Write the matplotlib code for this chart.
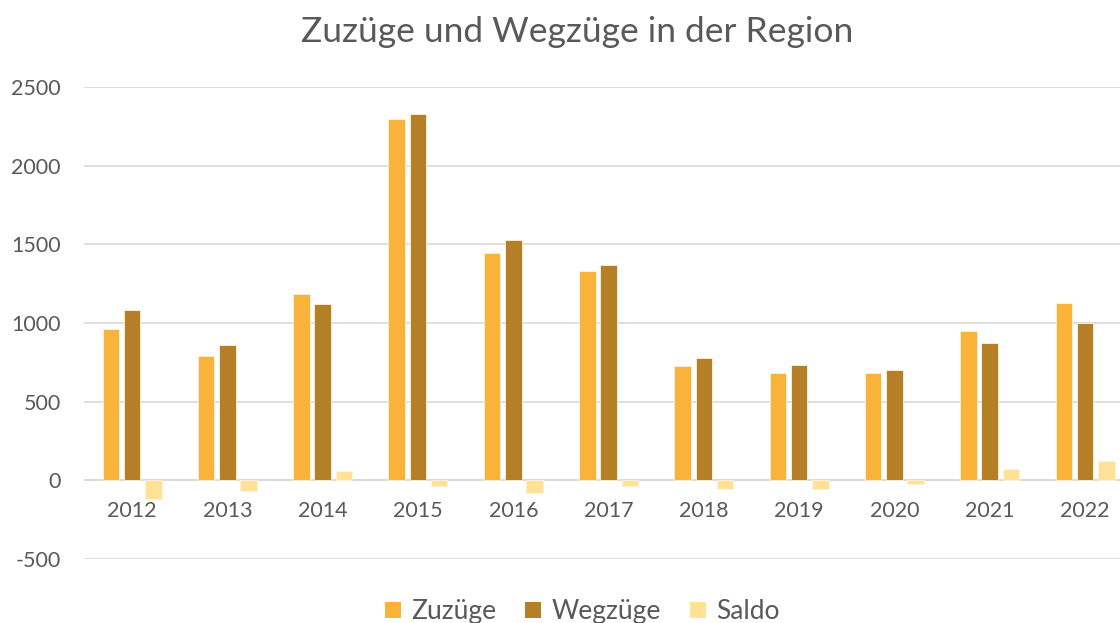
import numpy as np
import matplotlib.pyplot as plt
from matplotlib.patches import Patch

jahre = ['2012', '2013', '2014', '2015', '2016', '2017', '2018', '2019', '2020', '2021', '2022']
zuzuege = [960, 793, 1183, 2294, 1446, 1330, 725, 683, 683, 946, 1124]
wegzuege = [1085, 857, 1120, 2330, 1525, 1368, 778, 733, 704, 876, 1003]
saldo = [-121, -68, 59, -38, -81, -38, -55, -53, -23, 70, 123]

farben = ['#F9B23A', '#B47F26', '#FFE296']
namen = ['Zuzüge', 'Wegzüge', 'Saldo']
grau = '#595959'

plt.rcParams['font.family'] = ['Lato', 'DejaVu Sans']
plt.rcParams['axes.unicode_minus'] = False

fig = plt.figure(figsize=(11.2, 6.23), dpi=100)
ax = fig.add_axes([0.0754, 0.1027, 0.9359, 0.7577])

x = np.arange(len(jahre))
breite = 0.173
schritt = 0.223
for i, werte in enumerate([zuzuege, wegzuege, saldo]):
    ax.bar(x + (i - 1) * schritt, werte, breite, color=farben[i],
           edgecolor='#FFF3DC', linewidth=0.6, zorder=3)

ax.set_xlim(-0.5, len(jahre) - 0.5)
ax.set_ylim(-500, 2500)
ax.set_yticks(range(-500, 2501, 500))
ax.grid(axis='y', color='#D9D9D9', linewidth=1.2, zorder=0)
ax.axhline(0, color='#D9D9D9', linewidth=1.2, zorder=1)
ax.set_xticks([])
for s in ax.spines.values():
    s.set_visible(False)
ax.tick_params(axis='y', length=0, pad=17, labelsize=15.5, labelcolor=grau)

# Jahreslabels direkt unter der Nulllinie
for xi, j in zip(x, jahre):
    ax.annotate(j, (xi, 0), xytext=(0, -15), textcoords='offset points',
                ha='center', va='top', fontsize=15.5, color=grau)

fig.text(0.515, 0.948, 'Zuzüge und Wegzüge in der Region', ha='center', va='center',
         fontsize=25.5, color=grau)

handles = [Patch(facecolor=f, label=n) for f, n in zip(farben, namen)]
fig.legend(handles=handles, loc='center', bbox_to_anchor=(0.52, 0.018), ncol=3,
           frameon=False, fontsize=19, labelcolor=grau, handlelength=0.6,
           handleheight=0.6, handletextpad=0.4, columnspacing=1.1)

fig.savefig('out.png', dpi=100)
